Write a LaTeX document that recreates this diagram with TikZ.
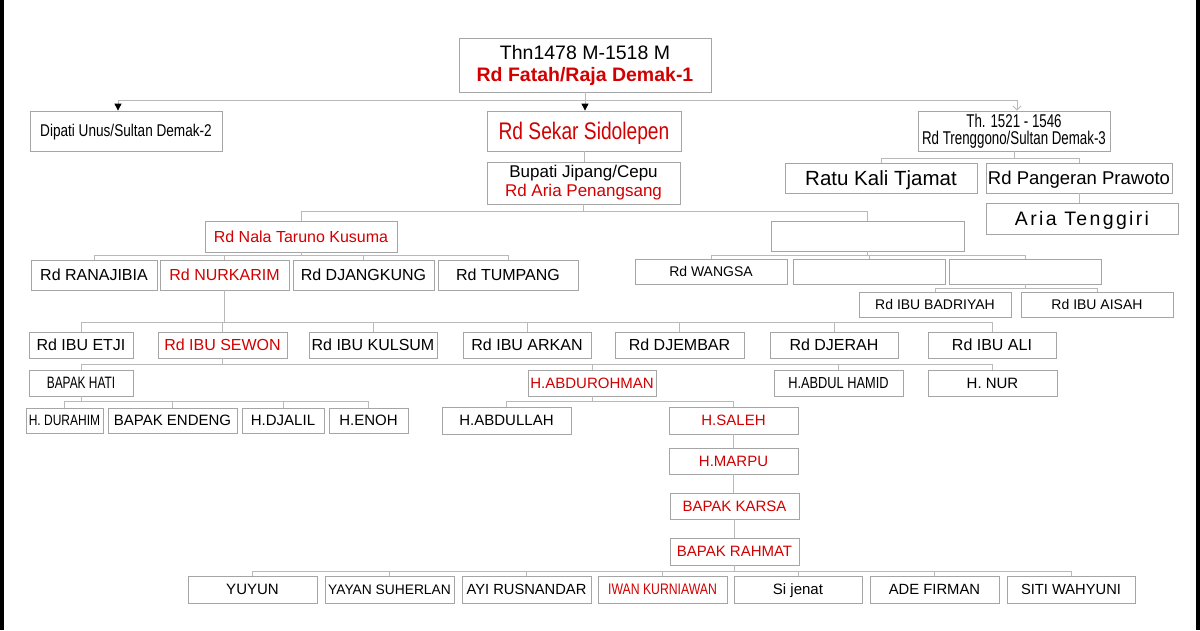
\documentclass[tikz,border=0pt]{standalone}
\usepackage{fontspec}
\setmainfont{Liberation Sans}
\newfontfamily\nfont[FakeStretch=0.8]{Liberation Sans}
\newfontfamily\nnfont[FakeStretch=0.72]{Liberation Sans}
\newfontfamily\spfont[LetterSpace=12]{Liberation Sans}
\usetikzlibrary{arrows.meta}
\definecolor{famred}{RGB}{210,0,0}
\definecolor{boxgray}{RGB}{165,165,165}
\definecolor{linegray}{RGB}{185,185,185}
\newcommand\famnode[7][]{\node[box,#1,minimum width={(#4)-(#3)},minimum height={(#6)-(#5)}] (#2) at ({((#3)+(#4))/2},{((#5)+(#6))/2}) {\vphantom{H}\smash{#7}};}
\newcommand\famnodeml[7][]{\node[box,#1,minimum width={(#4)-(#3)},minimum height={(#6)-(#5)}] (#2) at ({((#3)+(#4))/2},{((#5)+(#6))/2}) {#7};}
\newcommand\kid[3]{\draw[conn] (#1.south) -- ++(0,#3) -| (#2.north);}
\newcommand\fs[1]{\fontsize{#1}{#1}\selectfont}
\begin{document}
\begin{tikzpicture}[x=1pt,y=-1pt,
  box/.style={draw=boxgray,line width=0.8pt,fill=white,inner sep=0pt,align=center,font=\fs{16}},
  rd/.style={text=famred},
  conn/.style={draw=linegray,line width=0.9pt},
  blkarrow/.style={-{Triangle[length=7pt,width=7pt,color=black]}},
  grayarrow/.style={-{Straight Barb[length=4pt,width=8pt,color=linegray]}}]
\useasboundingbox (0,0) rectangle (1200,630);
\fill[white] (0,0) rectangle (1200,630);
\fill[black] (0,0) rectangle (3.5,630);
\fill[black] (1196,0) rectangle (1200,630);
% top levels
\famnodeml[font=\fontsize{19.5}{22}\selectfont]{top}{459}{711}{38}{92}{Thn1478 M-1518 M\\\textcolor{famred}{\bfseries Rd Fatah/Raja Demak-1}}
\famnode[font=\nfont\fs{17}]{dip}{30}{222}{111}{151}{Dipati Unus/Sultan Demak-2}
\famnode[rd,font=\nfont\fs{24}]{sek}{487}{681}{111}{151}{Rd Sekar Sidolepen}
\famnodeml[font=\nnfont\fontsize{18.5}{17.5}\selectfont]{th}{918}{1110}{111}{151}{Th. 1521 - 1546\\Rd Trenggono/Sultan Demak-3}
\famnodeml[font=\fontsize{17}{19}\selectfont]{bup}{487}{680}{162}{204}{Bupati Jipang/Cepu\\\textcolor{famred}{Rd Aria Penangsang}}
\famnode[font=\fs{20.5}]{ratu}{785}{977}{163}{193}{Ratu Kali Tjamat}
\famnode[font=\fs{18.5}]{praw}{986}{1172}{163}{193}{Rd Pangeran Prawoto}
\famnode[font=\spfont\fs{19.5}]{aria}{986}{1178}{203}{234}{Aria Tenggiri}
% level Nala
\famnode[rd]{nala}{205}{397}{221}{252}{Rd Nala Taruno Kusuma}
\famnode{eone}{771}{964}{221}{251}{}
\famnode{rana}{31}{157}{260}{290}{Rd RANAJIBIA}
\famnode[rd]{nurk}{160}{289}{260}{290}{Rd NURKARIM}
\famnode{djang}{293}{434}{260}{290}{Rd DJANGKUNG}
\famnode{tump}{438}{578}{260}{290}{Rd TUMPANG}
\famnode[font=\fs{14}]{wang}{635}{787}{259}{284}{Rd WANGSA}
\famnode{etwo}{793}{945}{259}{284}{}
\famnode{ethree}{949}{1101}{259}{284}{}
\famnode[font=\fs{14}]{badr}{859}{1011}{292}{317}{Rd IBU BADRIYAH}
\famnode[font=\fs{14}]{aisah}{1021}{1173}{292}{317}{Rd IBU AISAH}
% IBU row
\famnode{etji}{29}{133}{332}{358}{Rd IBU ETJI}
\famnode[rd]{sewon}{158}{287}{332}{358}{Rd IBU SEWON}
\famnode{kulsum}{309}{437}{332}{358}{Rd IBU KULSUM}
\famnode{arkan}{463}{591}{332}{358}{Rd IBU ARKAN}
\famnode{djembar}{615}{744}{332}{358}{Rd DJEMBAR}
\famnode{djerah}{770}{898}{332}{358}{Rd DJERAH}
\famnode{ibuali}{928}{1056}{332}{358}{Rd IBU ALI}
% Sewon children
\famnode[font=\nnfont\fs{16.5}]{hati}{29}{133}{370}{396}{BAPAK HATI}
\famnode[rd,font=\fs{15}]{abdur}{528}{656}{370}{396}{H.ABDUROHMAN}
\famnode[font=\nfont\fs{16}]{hamid}{774}{903}{370}{396}{H.ABDUL HAMID}
\famnode[font=\fs{15}]{nur}{928}{1057}{370}{396}{H. NUR}
% Hati children
\famnode[font=\nfont\fs{15}]{durahim}{26}{103}{408}{433}{H. DURAHIM}
\famnode[font=\fs{15}]{endeng}{108}{237}{408}{433}{BAPAK ENDENG}
\famnode[font=\fs{15}]{djalil}{242}{324}{408}{433}{H.DJALIL}
\famnode[font=\fs{15}]{enoh}{329}{408}{408}{433}{H.ENOH}
% Abdurohman line
\famnode[font=\fs{15}]{abdullah}{442}{571}{407}{434}{H.ABDULLAH}
\famnode[rd,font=\fs{15}]{saleh}{669}{798}{407}{434}{H.SALEH}
\famnode[rd,font=\fs{15}]{marpu}{669}{798}{448}{474}{H.MARPU}
\famnode[rd,font=\fs{15}]{karsa}{670}{799}{493}{519}{BAPAK KARSA}
\famnode[rd,font=\fs{15}]{rahmat}{670}{799}{538}{565}{BAPAK RAHMAT}
% bottom row
\famnode[font=\fs{15}]{yuyun}{188}{317}{576}{603}{YUYUN}
\famnode[font=\fs{13.8}]{yayan}{325}{454}{576}{603}{YAYAN SUHERLAN}
\famnode[font=\fs{14.7}]{ayi}{462}{591}{576}{603}{AYI RUSNANDAR}
\famnode[rd,font=\nfont\fs{15.3}]{iwan}{598}{727}{576}{603}{IWAN KURNIAWAN}
\famnode[font=\fs{15}]{sij}{734}{862}{576}{603}{Si jenat}
\famnode[font=\fs{14.8}]{ade}{870}{999}{576}{603}{ADE FIRMAN}
\famnode[font=\fs{14.7}]{siti}{1007}{1135}{576}{603}{SITI WAHYUNI}
% connectors: top
\draw[conn] (top.south) -- ++(0,8) coordinate (tb);
\draw[conn,blkarrow] (tb) -| ([xshift=-8pt]dip.north);
\draw[conn,blkarrow] (tb) -- (tb |- sek.north);
\draw[conn,grayarrow] (tb) -| ([xshift=3pt]th.north);
\draw[conn] (sek.south) -- (sek.south |- bup.north);
\kid{bup}{nala}{7}
\kid{bup}{eone}{7}
\kid{th}{ratu}{7}
\kid{th}{praw}{7}
\draw[conn] (praw.south) -- (praw.south |- aria.north);
\kid{nala}{rana}{3}
\kid{nala}{nurk}{3}
\kid{nala}{djang}{3}
\kid{nala}{tump}{3}
\kid{eone}{wang}{4}
\kid{eone}{etwo}{4}
\kid{eone}{ethree}{4}
\kid{ethree}{badr}{4}
\kid{ethree}{aisah}{4}
\kid{nurk}{etji}{32}
\kid{nurk}{sewon}{32}
\kid{nurk}{kulsum}{32}
\kid{nurk}{arkan}{32}
\kid{nurk}{djembar}{32}
\kid{nurk}{djerah}{32}
\kid{nurk}{ibuali}{32}
\kid{sewon}{hati}{6}
\kid{sewon}{abdur}{6}
\kid{sewon}{hamid}{6}
\kid{sewon}{nur}{6}
\kid{hati}{durahim}{5}
\kid{hati}{endeng}{5}
\kid{hati}{djalil}{5}
\kid{hati}{enoh}{5}
\kid{abdur}{abdullah}{5}
\kid{abdur}{saleh}{5}
\draw[conn] (saleh.south) -- (saleh.south |- marpu.north);
\draw[conn] (marpu.south) -- (marpu.south |- karsa.north);
\draw[conn] (karsa.south) -- (karsa.south |- rahmat.north);
\kid{rahmat}{yuyun}{6}
\kid{rahmat}{yayan}{6}
\kid{rahmat}{ayi}{6}
\kid{rahmat}{iwan}{6}
\kid{rahmat}{sij}{6}
\kid{rahmat}{ade}{6}
\kid{rahmat}{siti}{6}
\end{tikzpicture}
\end{document}
